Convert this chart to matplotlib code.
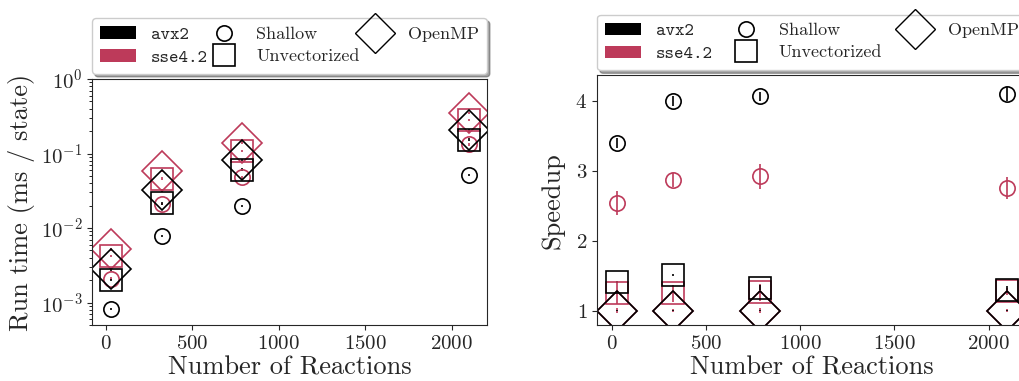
"""Run time and speedup of the vectorized solver versus reaction count."""

import matplotlib as mpl
import matplotlib.pyplot as plt
from matplotlib.lines import Line2D
from matplotlib.patches import Patch

mpl.rcParams["font.family"] = "cmr10"
mpl.rcParams["mathtext.fontset"] = "cm"
mpl.rcParams["axes.formatter.use_mathtext"] = True
mpl.rcParams["axes.unicode_minus"] = False

TEXT = "0.15"
COLORS = {"avx2": "black", "sse4.2": "#BD3A5A"}
MARKERS = {"Shallow": ("o", 11), "Unvectorized": ("s", 16.5), "OpenMP": ("D", 20.5)}

n_reactions = [29, 325, 785, 2100]

# run time (ms / state)
runtime = {
    ("Shallow", "sse4.2"): [2.09e-3, 2.1e-2, 4.8e-2, 0.133],
    ("Unvectorized", "sse4.2"): [4.2e-3, 4.6e-2, 0.108, 0.281],
    ("OpenMP", "sse4.2"): [5.2e-3, 5.8e-2, 0.14, 0.352],
    ("Shallow", "avx2"): [8.2e-4, 7.8e-3, 1.97e-2, 5.15e-2],
    ("Unvectorized", "avx2"): [2.0e-3, 2.14e-2, 6.1e-2, 0.153],
    ("OpenMP", "avx2"): [2.8e-3, 3.2e-2, 8.2e-2, 0.205],
}

# speedup relative to OpenMP
speedup = {
    ("Shallow", "sse4.2"): [2.54, 2.87, 2.92, 2.75],
    ("Unvectorized", "sse4.2"): [1.25, 1.25, 1.26, 1.28],
    ("OpenMP", "sse4.2"): [1.0, 1.0, 1.0, 1.0],
    ("Shallow", "avx2"): [3.40, 4.00, 4.06, 4.09],
    ("Unvectorized", "avx2"): [1.41, 1.51, 1.33, 1.30],
    ("OpenMP", "avx2"): [1.0, 1.0, 1.0, 1.0],
}
speedup_err = {
    ("Shallow", "sse4.2"): [0.17, 0.1, 0.18, 0.16],
    ("Unvectorized", "sse4.2"): [0.15, 0.12, 0.12, 0.05],
    ("OpenMP", "sse4.2"): [0.04, 0.02, 0.04, 0.02],
    ("Shallow", "avx2"): [0.07, 0.07, 0.07, 0.1],
    ("Unvectorized", "avx2"): [0.02, 0.02, 0.03, 0.05],
    ("OpenMP", "avx2"): [0.01, 0.01, 0.01, 0.01],
}


def draw(ax, values, errors):
    for key, ys in values.items():
        method, isa = key
        marker, ms = MARKERS[method]
        err = errors(key, ys)
        ax.errorbar(
            n_reactions, ys, yerr=err, fmt=marker, ms=ms, mfc="none",
            mec=COLORS[isa], color=COLORS[isa], mew=1.2, elinewidth=1.2,
            capsize=0,
        )
    ax.set_xlabel("Number of Reactions", fontsize=19, color=TEXT, labelpad=2)
    ax.set_xticks([0, 500, 1000, 1500, 2000])
    ax.tick_params(labelsize=15, colors=TEXT)
    for sp in ax.spines.values():
        sp.set_color(TEXT)


def add_legend(ax):
    handles = [
        Patch(facecolor=COLORS["avx2"]),
        Patch(facecolor=COLORS["sse4.2"]),
        Line2D([], [], ls="", marker="o", ms=11, mfc="none", mec="black", mew=1.2),
        Line2D([], [], ls="", marker="s", ms=16.5, mfc="none", mec="black", mew=1.2),
        Line2D([], [], ls="", marker="D", ms=20.5, mfc="none", mec="black", mew=1.0),
    ]
    labels = ["avx2", "sse4.2", "Shallow", "Unvectorized", "OpenMP"]
    leg = ax.legend(
        handles, labels, ncol=3, mode="expand", loc="lower left",
        bbox_to_anchor=(0, 1.02, 1, 0.2), fontsize=13, shadow=True,
        borderaxespad=0, handletextpad=0.8, columnspacing=0.4,
        labelspacing=0.35, borderpad=0.45,
    )
    for t in leg.get_texts():
        t.set_color(TEXT)
    for t in leg.get_texts()[:2]:
        t.set_fontfamily("cmtt10")


fig = plt.figure(figsize=(10.2, 3.81), dpi=100)
ax1 = fig.add_axes([0.0902, 0.147, 0.3873, 0.6457])
ax2 = fig.add_axes([0.5853, 0.147, 0.4216, 0.6549])

draw(ax1, runtime, lambda k, ys: [0.04 * y for y in ys])
ax1.set_yscale("log")
ax1.set_ylim(5e-4, 1)
ax1.set_ylabel("Run time (ms / state)", fontsize=19, color=TEXT, labelpad=4)
add_legend(ax1)

draw(ax2, speedup, lambda k, ys: speedup_err[k])
ax2.set_ylim(0.795, 4.36)
ax2.set_yticks([1, 2, 3, 4])
ax2.set_ylabel("Speedup", fontsize=19, color=TEXT, labelpad=8)
add_legend(ax2)

for ax in (ax1, ax2):
    ax.set_xlim(-79, 2204)

fig.savefig("out.png", dpi=100, facecolor="white")
